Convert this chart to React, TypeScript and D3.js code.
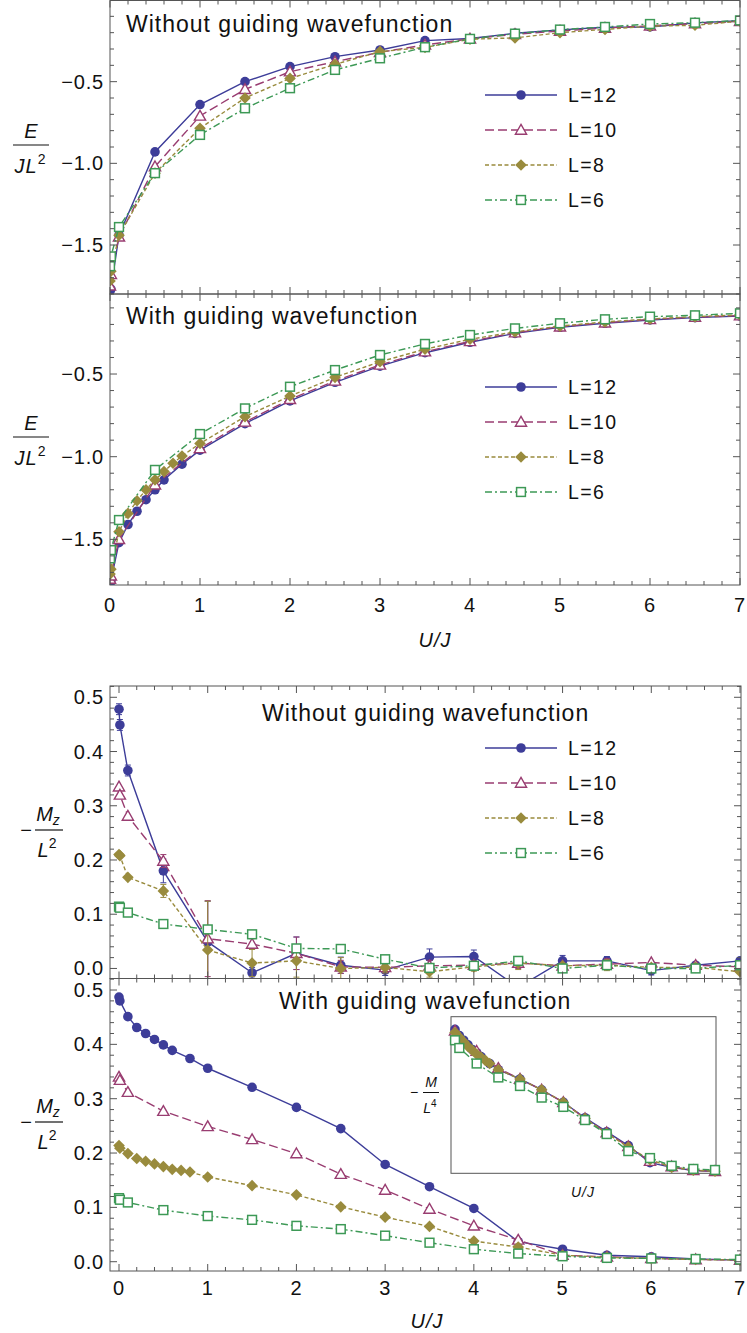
import React from 'react';
import * as d3 from 'd3';

// ---------- data ----------
const X_SPARSE = [0, 0.01, 0.1, 0.5, 1, 1.5, 2, 2.5, 3, 3.5, 4, 4.5, 5, 5.5, 6, 6.5, 7];
const X_DENSE12 = [0, 0.01, 0.1, 0.2, 0.3, 0.4, 0.5, 0.6, 0.8, 1, 1.5, 2, 2.5, 3, 3.5, 4, 4.5, 5, 5.5, 6, 6.5, 7];
const X_DENSE8 = [0, 0.01, 0.1, 0.2, 0.3, 0.4, 0.5, 0.6, 0.7, 0.8, 1, 1.5, 2, 2.5, 3, 3.5, 4, 4.5, 5, 5.5, 6, 6.5, 7];

const LABELS = ['L=12', 'L=10', 'L=8', 'L=6'];
const X_TICKS = [0, 1, 2, 3, 4, 5, 6, 7];
const E_TICKS = [-1.5, -1.0, -0.5];
const M_TICKS = [0.0, 0.1, 0.2, 0.3, 0.4, 0.5];

// Energy, without guiding wavefunction
const E_NO_12 = [-1.78, -1.77, -1.44, -0.93, -0.64, -0.5, -0.408, -0.347, -0.306, -0.249, -0.236, -0.204, -0.183, -0.167, -0.165, -0.14, -0.127];
const E_NO_10 = [-1.75, -1.68, -1.45, -1.02, -0.71, -0.547, -0.439, -0.378, -0.32, -0.275, -0.238, -0.21, -0.19, -0.172, -0.158, -0.145, -0.13];
const E_NO_8 = [-1.72, -1.66, -1.44, -1.06, -0.785, -0.6, -0.48, -0.394, -0.316, -0.29, -0.24, -0.232, -0.2, -0.18, -0.16, -0.155, -0.13];
const E_NO_6 = [-1.63, -1.57, -1.39, -1.06, -0.826, -0.663, -0.54, -0.428, -0.357, -0.289, -0.238, -0.206, -0.181, -0.165, -0.147, -0.139, -0.125];

// Energy, with guiding wavefunction
const E_GW_12 = [-1.77, -1.75, -1.52, -1.41, -1.33, -1.26, -1.2, -1.14, -1.045, -0.96, -0.8, -0.663, -0.55, -0.452, -0.371, -0.308, -0.254, -0.217, -0.193, -0.173, -0.159, -0.149];
const E_GW_10 = [-1.74, -1.72, -1.5, -1.17, -0.95, -0.79, -0.653, -0.542, -0.445, -0.365, -0.303, -0.25, -0.214, -0.19, -0.17, -0.156, -0.147];
const E_GW_8 = [-1.71, -1.68, -1.454, -1.343, -1.266, -1.2, -1.14, -1.09, -1.04, -0.996, -0.92, -0.758, -0.633, -0.52, -0.426, -0.35, -0.29, -0.245, -0.21, -0.185, -0.167, -0.153, -0.143];
const E_GW_6 = [-1.615, -1.565, -1.383, -1.08, -0.863, -0.708, -0.577, -0.476, -0.385, -0.318, -0.264, -0.224, -0.193, -0.169, -0.153, -0.145, -0.133];

// Magnetization, without guiding wavefunction
const M_NO_12 = [0.478, 0.449, 0.365, 0.18, 0.049, -0.008, 0.028, 0.006, -0.003, 0.021, 0.022, -0.035, 0.014, 0.014, -0.004, 0.006, 0.014];
const M_NO_10 = [0.335, 0.32, 0.281, 0.198, 0.055, 0.045, 0.028, 0.003, 0.002, 0.005, 0.006, 0.01, 0.005, 0.008, 0.011, 0.006, 0.003];
const M_NO_8 = [0.21, 0.208, 0.168, 0.143, 0.034, 0.01, 0.014, 0.0, 0.002, -0.006, 0.003, 0.01, 0.005, 0.006, 0.002, 0.002, -0.006];
const M_NO_6 = [0.114, 0.112, 0.103, 0.082, 0.072, 0.063, 0.037, 0.036, 0.017, 0.001, 0.005, 0.014, 0.0, 0.006, 0.0, 0.0, 0.006];
const M_NO_12_ERR = [0.01, 0.01, 0.01, 0.022, 0.075, 0.01, 0.03, 0.015, 0.01, 0.015, 0.012, 0.01, 0.01, 0.008, 0.008, 0.005, 0.006];
const M_NO_10_ERR = [0.005, 0.005, 0.005, 0.012, 0.07, 0.01, 0.03, 0.012, 0.01, 0.01, 0.008, 0.01, 0.006, 0.01, 0.006, 0.005, 0.005];
const M_NO_8_ERR = [0.004, 0.004, 0.004, 0.012, 0.09, 0.025, 0.03, 0.02, 0.01, 0.01, 0.008, 0.012, 0.006, 0.01, 0.006, 0.005, 0.006];
const M_NO_6_ERR = [0.002, 0.002, 0.002, 0.003, 0.005, 0.005, 0.005, 0.005, 0.005, 0.005, 0.005, 0.005, 0.005, 0.005, 0.005, 0.005, 0.005];

// Magnetization, with guiding wavefunction
const M_GW_12 = [0.487, 0.48, 0.451, 0.431, 0.42, 0.409, 0.399, 0.389, 0.374, 0.356, 0.321, 0.284, 0.245, 0.179, 0.138, 0.098, 0.037, 0.023, 0.012, 0.009, 0.005, 0.003];
const M_GW_10 = [0.34, 0.334, 0.312, 0.277, 0.249, 0.225, 0.199, 0.161, 0.132, 0.097, 0.066, 0.04, 0.012, 0.009, 0.006, 0.004, 0.003];
const M_GW_8 = [0.214, 0.209, 0.199, 0.19, 0.185, 0.18, 0.175, 0.17, 0.168, 0.165, 0.156, 0.14, 0.123, 0.101, 0.082, 0.065, 0.038, 0.027, 0.012, 0.008, 0.006, 0.004, 0.003];
const M_GW_6 = [0.117, 0.114, 0.109, 0.095, 0.084, 0.077, 0.066, 0.06, 0.048, 0.035, 0.023, 0.015, 0.01, 0.007, 0.006, 0.005, 0.004];

// Inset (scaled magnetization)
const IN_X12 = [0, 0.1, 0.2, 0.3, 0.4, 0.5, 0.6, 0.8, 1, 1.5, 2, 2.5, 3, 3.5, 4, 4.5, 5, 5.5, 6];
const IN_X8 = [0, 0.1, 0.2, 0.3, 0.4, 0.5, 0.6, 0.7, 0.8, 1, 1.5, 2, 2.5, 3, 3.5, 4, 4.5, 5, 5.5, 6];
const IN_XS = [0, 0.1, 0.5, 1, 1.5, 2, 2.5, 3, 3.5, 4, 4.5, 5, 5.5, 6];
const IN_12 = [0.92, 0.88, 0.85, 0.82, 0.79, 0.77, 0.745, 0.7, 0.66, 0.6, 0.53, 0.45, 0.35, 0.26, 0.17, 0.06, 0.03, 0.01, 0.005];
const IN_10 = [0.91, 0.87, 0.78, 0.67, 0.6, 0.53, 0.45, 0.345, 0.255, 0.165, 0.07, 0.035, 0.01, 0.005];
const IN_8 = [0.9, 0.87, 0.84, 0.81, 0.785, 0.76, 0.74, 0.72, 0.7, 0.66, 0.6, 0.53, 0.45, 0.345, 0.25, 0.16, 0.08, 0.03, 0.012, 0.005];
const IN_6 = [0.85, 0.8, 0.7, 0.61, 0.555, 0.48, 0.42, 0.335, 0.245, 0.135, 0.09, 0.04, 0.02, 0.013];

// ---------- styles ----------
const COLORS = ['#3d3d99', '#993d71', '#998b3d', '#3d9956'];
const DASHES = ['none', '9,4', '4,2.5', '7,3,2,3'];
const MARKERS = ['circle', 'triangle', 'diamond', 'square'];
const FONT = '"Liberation Sans", Arial, Helvetica, sans-serif';
const FRAME = '#555';
const LS = 1; // letter spacing

type S = { i: number; x: number[]; y: number[]; err?: number[] };

function Marker({ kind, cx, cy, color }: { kind: string; cx: number; cy: number; color: string }) {
  if (kind === 'circle') return <circle cx={cx} cy={cy} r={4.8} fill={color} />;
  if (kind === 'triangle') {
    const s = 5.6;
    return <path d={`M${cx},${cy - s}L${cx + s},${cy + s * 0.75}L${cx - s},${cy + s * 0.75}Z`} fill="white" stroke={color} strokeWidth={1.4} />;
  }
  if (kind === 'diamond') {
    const s = 5.8;
    return <path d={`M${cx},${cy - s}L${cx + s},${cy}L${cx},${cy + s}L${cx - s},${cy}Z`} fill={color} />;
  }
  const s = 4.4;
  return <rect x={cx - s} y={cy - s} width={2 * s} height={2 * s} fill="white" stroke={color} strokeWidth={1.5} />;
}

function SeriesG({ s, xs, ys }: { s: S; xs: any; ys: any }) {
  const color = COLORS[s.i];
  const pts = s.x.map((x, k) => [xs(x), ys(s.y[k])] as [number, number]);
  const line = d3.line()(pts) || '';
  return (
    <g>
      <path d={line} fill="none" stroke={color} strokeWidth={1.4} strokeDasharray={DASHES[s.i]} />
      {s.err &&
        s.x.map((x, k) => {
          const e = s.err![k];
          const y1 = ys(s.y[k] - e), y2 = ys(s.y[k] + e);
          const cx = xs(x);
          if (Math.abs(y1 - y2) < 7) return null;
          return (
            <g key={'e' + k} stroke={color} strokeWidth={1}>
              <line x1={cx} x2={cx} y1={y1} y2={y2} />
              <line x1={cx - 3} x2={cx + 3} y1={y1} y2={y1} />
              <line x1={cx - 3} x2={cx + 3} y1={y2} y2={y2} />
            </g>
          );
        })}
      {pts.map((p, k) => (
        <Marker key={k} kind={MARKERS[s.i]} cx={p[0]} cy={p[1]} color={color} />
      ))}
    </g>
  );
}

function stepRange(a: number, b: number, step: number) {
  const out: number[] = [];
  const n0 = Math.ceil(a / step - 1e-9), n1 = Math.floor(b / step + 1e-9);
  for (let n = n0; n <= n1; n++) out.push(+(n * step).toFixed(6));
  return out;
}

type PanelProps = {
  id: string;
  left: number; right: number; top: number; bottom: number;
  xs: any; ys: any;
  yTicks: number[]; yMinor: number; yFmt: (v: number) => string;
  xMinor: number; xLabels: boolean; xLabelOffset?: number;
  series: S[];
  title: string; titleX: number; titleY: number;
  legendY?: number;
};

function Panel(p: PanelProps) {
  const [y0, y1] = p.ys.domain();
  const [x0, x1] = [p.xs.invert(p.left), p.xs.invert(p.right)];
  const xMajor = X_TICKS.filter((t) => t >= x0 - 1e-6 && t <= x1 + 1e-6);
  const xMin = stepRange(Math.max(0, x0), x1, p.xMinor).filter((t) => Math.abs(t - Math.round(t)) > 1e-6);
  const yMin = stepRange(y0, y1, p.yMinor).filter((t) => !p.yTicks.some((m) => Math.abs(m - t) < 1e-6));
  const MJ = 7, MN = 4;
  return (
    <g>
      <defs>
        <clipPath id={p.id}>
          <rect x={p.left} y={p.top} width={p.right - p.left} height={p.bottom - p.top} />
        </clipPath>
      </defs>
      <g clipPath={`url(#${p.id})`}>
        {p.series.map((s) => (
          <SeriesG key={s.i} s={s} xs={p.xs} ys={p.ys} />
        ))}
      </g>
      <g stroke={FRAME} strokeWidth={1}>
        <rect x={p.left} y={p.top} width={p.right - p.left} height={p.bottom - p.top} fill="none" />
        {xMajor.map((t) => (
          <g key={'xm' + t}>
            <line x1={p.xs(t)} x2={p.xs(t)} y1={p.bottom} y2={p.bottom - MJ} />
            <line x1={p.xs(t)} x2={p.xs(t)} y1={p.top} y2={p.top + MJ} />
          </g>
        ))}
        {xMin.map((t) => (
          <g key={'xn' + t}>
            <line x1={p.xs(t)} x2={p.xs(t)} y1={p.bottom} y2={p.bottom - MN} />
            <line x1={p.xs(t)} x2={p.xs(t)} y1={p.top} y2={p.top + MN} />
          </g>
        ))}
        {p.yTicks.map((t) => (
          <g key={'ym' + t}>
            <line x1={p.left} x2={p.left + MJ} y1={p.ys(t)} y2={p.ys(t)} />
            <line x1={p.right} x2={p.right - MJ} y1={p.ys(t)} y2={p.ys(t)} />
          </g>
        ))}
        {yMin.map((t) => (
          <g key={'yn' + t}>
            <line x1={p.left} x2={p.left + MN} y1={p.ys(t)} y2={p.ys(t)} />
            <line x1={p.right} x2={p.right - MN} y1={p.ys(t)} y2={p.ys(t)} />
          </g>
        ))}
      </g>
      <g fontFamily={FONT} fontSize={20} fill="#111" letterSpacing={0.8}>
        {p.yTicks.map((t) => (
          <text key={'yl' + t} x={p.left - 6} y={p.ys(t) + 7} textAnchor="end">
            {p.yFmt(t)}
          </text>
        ))}
        {p.xLabels &&
          xMajor.map((t) => (
            <text key={'xl' + t} x={p.xs(t)} y={p.bottom + (p.xLabelOffset ?? 27)} textAnchor="middle">
              {t}
            </text>
          ))}
        <text x={p.titleX} y={p.titleY} fontSize={23} letterSpacing={LS}>
          {p.title}
        </text>
      </g>
      {p.legendY !== undefined && <Legend y={p.legendY} />}
    </g>
  );
}

function Legend({ y }: { y: number }) {
  return (
    <g>
      {LABELS.map((lab, i) => {
        const yy = y + i * 35;
        return (
          <g key={lab}>
            <line x1={485} x2={557} y1={yy} y2={yy} stroke={COLORS[i]} strokeWidth={1.4} strokeDasharray={DASHES[i]} />
            <Marker kind={MARKERS[i]} cx={521} cy={yy} color={COLORS[i]} />
            <text x={568} y={yy + 7} fontFamily={FONT} fontSize={19.5} fill="#111" letterSpacing={1.4}>
              {lab}
            </text>
          </g>
        );
      })}
    </g>
  );
}

function ELabel({ cy }: { cy: number }) {
  return (
    <g fontFamily={FONT} fontSize={20} fill="#111">
      <text x={31} y={cy - 7} textAnchor="middle" fontStyle="italic">E</text>
      <line x1={13} x2={49} y1={cy} y2={cy} stroke="#111" strokeWidth={1.2} />
      <text x={30} y={cy + 28} textAnchor="middle">
        <tspan fontStyle="italic" letterSpacing={1}>JL</tspan>
        <tspan fontSize={14} dy={-9}>2</tspan>
      </text>
    </g>
  );
}

function MLabel({ cy }: { cy: number }) {
  return (
    <g fontFamily={FONT} fontSize={20} fill="#111">
      <text x={26} y={cy + 7} textAnchor="middle">−</text>
      <text x={48} y={cy - 9} textAnchor="middle">
        <tspan fontStyle="italic">M</tspan>
        <tspan fontStyle="italic" fontSize={14} dy={4}>z</tspan>
      </text>
      <line x1={35} x2={63} y1={cy} y2={cy} stroke="#111" strokeWidth={1.2} />
      <text x={47} y={cy + 27} textAnchor="middle">
        <tspan fontStyle="italic">L</tspan>
        <tspan fontSize={14} dy={-9}>2</tspan>
      </text>
    </g>
  );
}

export default function App() {
  const xTop = d3.scaleLinear().domain([0, 7]).range([110, 740]);
  const xBot = d3.scaleLinear().domain([0, 7]).range([119, 740]);
  const y1 = d3.scaleLinear().domain([-1.8, 0]).range([294, 0]);
  const y2 = d3.scaleLinear().domain([-1.776, -0.016]).range([585, 294]);
  const y3 = d3.scaleLinear().domain([-0.0185, 0.5208]).range([978.5, 686]);
  const y4 = d3.scaleLinear().domain([-0.0171, 0.5212]).range([1271, 978.5]);
  const fE = d3.format('.1f');
  const fM = d3.format('.1f');

  const p1: S[] = [
    { i: 0, x: X_SPARSE, y: E_NO_12 },
    { i: 1, x: X_SPARSE, y: E_NO_10 },
    { i: 2, x: X_SPARSE, y: E_NO_8 },
    { i: 3, x: X_SPARSE, y: E_NO_6 },
  ];
  const p2: S[] = [
    { i: 0, x: X_DENSE12, y: E_GW_12 },
    { i: 1, x: X_SPARSE, y: E_GW_10 },
    { i: 2, x: X_DENSE8, y: E_GW_8 },
    { i: 3, x: X_SPARSE, y: E_GW_6 },
  ];
  const p3: S[] = [
    { i: 0, x: X_SPARSE, y: M_NO_12, err: M_NO_12_ERR },
    { i: 1, x: X_SPARSE, y: M_NO_10, err: M_NO_10_ERR },
    { i: 2, x: X_SPARSE, y: M_NO_8, err: M_NO_8_ERR },
    { i: 3, x: X_SPARSE, y: M_NO_6, err: M_NO_6_ERR },
  ];
  const p4: S[] = [
    { i: 0, x: X_DENSE12, y: M_GW_12 },
    { i: 1, x: X_SPARSE, y: M_GW_10 },
    { i: 2, x: X_DENSE8, y: M_GW_8 },
    { i: 3, x: X_SPARSE, y: M_GW_6 },
  ];
  const inset: S[] = [
    { i: 0, x: IN_X12, y: IN_12 },
    { i: 1, x: IN_XS, y: IN_10 },
    { i: 2, x: IN_X8, y: IN_8 },
    { i: 3, x: IN_XS, y: IN_6 },
  ];
  const xi = d3.scaleLinear().domain([0, 6]).range([455, 715]);
  const yi = d3.scaleLinear().domain([0, 1]).range([1172, 1017]);

  return (
    <svg width={747} height={1333} style={{ position: 'absolute', left: 0, top: 0, background: 'white' }}>
      <rect width={747} height={1333} fill="white" />
      <Panel id="c1" left={110} right={740} top={0.5} bottom={294} xs={xTop} ys={y1} yTicks={E_TICKS} yMinor={0.1} yFmt={fE}
        xMinor={0.2} xLabels={false} series={p1} title="Without guiding wavefunction" titleX={126} titleY={32} legendY={95} />
      <Panel id="c2" left={110} right={740} top={294} bottom={585} xs={xTop} ys={y2} yTicks={E_TICKS} yMinor={0.1} yFmt={fE}
        xMinor={0.2} xLabels={true} xLabelOffset={27} series={p2} title="With guiding wavefunction" titleX={126} titleY={324} legendY={387} />
      <Panel id="c3" left={110} right={741} top={686} bottom={978.5} xs={xBot} ys={y3} yTicks={M_TICKS} yMinor={0.02} yFmt={fM}
        xMinor={0.2} xLabels={false} series={p3} title="Without guiding wavefunction" titleX={262} titleY={721} legendY={748} />
      <Panel id="c4" left={110} right={741} top={978.5} bottom={1271} xs={xBot} ys={y4} yTicks={M_TICKS} yMinor={0.02} yFmt={fM}
        xMinor={0.2} xLabels={true} xLabelOffset={24} series={p4} title="With guiding wavefunction" titleX={279} titleY={1009} />

      <ELabel cy={145} />
      <ELabel cy={437} />
      <MLabel cy={830} />
      <MLabel cy={1122} />

      <text x={435} y={647} textAnchor="middle" fontFamily={FONT} fontSize={20} fontStyle="italic" fill="#111" letterSpacing={1}>U/J</text>
      <text x={427} y={1328} textAnchor="middle" fontFamily={FONT} fontSize={20} fontStyle="italic" fill="#111" letterSpacing={1}>U/J</text>

      {/* inset */}
      <g>
        <rect x={451} y={1016.7} width={265} height={156.6} fill="white" stroke={FRAME} strokeWidth={1} />
        {inset.map((s) => (
          <SeriesG key={s.i} s={s} xs={xi} ys={yi} />
        ))}
        <g fontFamily={FONT} fontSize={14} fill="#111">
          <text x={583} y={1197} textAnchor="middle" fontStyle="italic" letterSpacing={1}>U/J</text>
          <text x={414} y={1097} textAnchor="middle">−</text>
          <text x={431} y={1087} textAnchor="middle" fontStyle="italic">M</text>
          <line x1={423} x2={439} y1={1092.5} y2={1092.5} stroke="#111" strokeWidth={1} />
          <text x={430} y={1113} textAnchor="middle">
            <tspan fontStyle="italic">L</tspan>
            <tspan fontSize={10} dy={-6}>4</tspan>
          </text>
        </g>
      </g>
    </svg>
  );
}
